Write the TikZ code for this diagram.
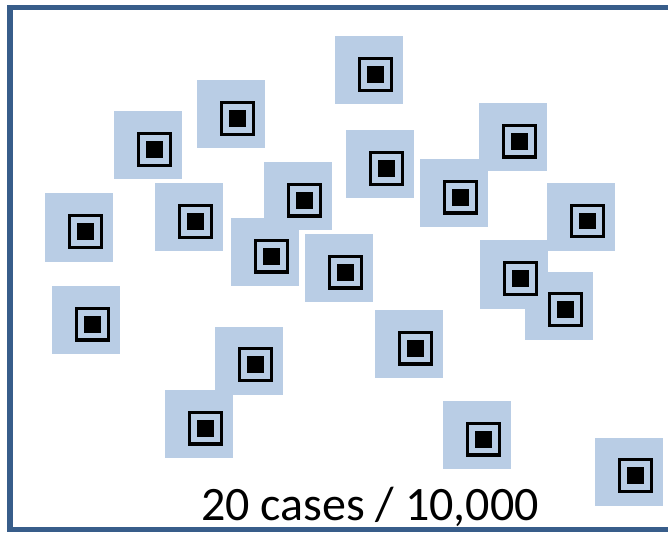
\documentclass[tikz,border=0pt]{standalone}
\usepackage{fontspec}
\setmainfont{Carlito}
\usetikzlibrary{positioning}
\definecolor{cornice}{HTML}{385D8A}
\definecolor{azzurro}{HTML}{B9CDE5}
\tikzset{
  cella/.style  = {rectangle, fill=azzurro, minimum size=68pt, inner sep=0},
  segno/.style  = {rectangle, draw=black, line width=3.3pt, minimum size=31.4pt, inner sep=0,
                   path picture={\fill[black] ([shift={(-8.3pt,-8.3pt)}]path picture bounding box.center) rectangle ++(16.6pt,16.6pt);}},
  bordo/.style  = {draw=cornice, line width=5.3pt},
  et/.style     = {font=\fontsize{48}{58}\selectfont, inner sep=0, anchor=base}
}
\begin{document}
\begin{tikzpicture}[x=1pt,y=-1pt]
  \useasboundingbox (0,0) rectangle (668,534);
  \clip (0,0) rectangle (668,534);
  \draw[bordo] (10,7.5) rectangle (690,529.5);

  % casi
  \node[cella] (c1)  at (369,70.5) {};
  \node[cella] (c2)  at (231,114.5) {};
  \node[cella] (c3)  at (148,145.5) {};
  \node[cella] (c4)  at (513,137.3) {};
  \node[cella] (c5)  at (380,164.5) {};
  \node[cella] (c6)  at (454,193.3) {};
  \node[cella] (c7)  at (298,196.3) {};
  \node[cella] (c8)  at (189,217.5) {};
  \node[cella] (c9)  at (79,227.5) {};
  \node[cella] (c10) at (581,217) {};
  \node[cella] (c11) at (265,252.3) {};
  \node[cella] (c12) at (339,268.3) {};
  \node[cella] (c13) at (514,274.5) {};
  \node[cella] (c14) at (559,305.5) {};
  \node[cella] (c15) at (86,320.3) {};
  \node[cella] (c16) at (409,344.3) {};
  \node[cella] (c17) at (249,360.5) {};
  \node[cella] (c18) at (199,424.3) {};
  \node[cella] (c19) at (477,435.3) {};
  \node[cella] (c20) at (629,471.5) {};

  \node[segno] (s1)  at ([shift={(6.5,4)}]c1.center) {};
  \node[segno] (s2)  at ([shift={(6.5,4)}]c2.center) {};
  \node[segno] (s3)  at ([shift={(6.5,4)}]c3.center) {};
  \node[segno] (s4)  at ([shift={(6.5,4)}]c4.center) {};
  \node[segno] (s5)  at ([shift={(6.5,4)}]c5.center) {};
  \node[segno] (s6)  at ([shift={(6.5,4)}]c6.center) {};
  \node[segno] (s7)  at ([shift={(6.5,4)}]c7.center) {};
  \node[segno] (s8)  at ([shift={(6.5,4)}]c8.center) {};
  \node[segno] (s9)  at ([shift={(6.5,4)}]c9.center) {};
  \node[segno] (s10) at ([shift={(6.5,4)}]c10.center) {};
  \node[segno] (s11) at ([shift={(6.5,4)}]c11.center) {};
  \node[segno] (s12) at ([shift={(6.5,4)}]c12.center) {};
  \node[segno] (s13) at ([shift={(6.5,4)}]c13.center) {};
  \node[segno] (s14) at ([shift={(6.5,4)}]c14.center) {};
  \node[segno] (s15) at ([shift={(6.5,4)}]c15.center) {};
  \node[segno] (s16) at ([shift={(6.5,4)}]c16.center) {};
  \node[segno] (s17) at ([shift={(6.5,4)}]c17.center) {};
  \node[segno] (s18) at ([shift={(6.5,4)}]c18.center) {};
  \node[segno] (s19) at ([shift={(6.5,4)}]c19.center) {};
  \node[segno] (s20) at ([shift={(6.5,4)}]c20.center) {};

  \node[et] (conteggio) at (370,520) {20 cases / 10,000};
\end{tikzpicture}
\end{document}
